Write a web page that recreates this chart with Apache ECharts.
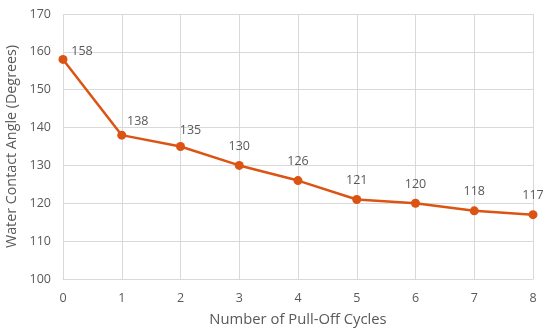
<!DOCTYPE html>
<html><head><meta charset="utf-8">
<script src="https://cdn.jsdelivr.net/npm/echarts@6/dist/echarts.min.js"></script>
<style>html,body{margin:0;padding:0;background:#fff}#c{width:550px;height:334px}</style>
</head><body><div id="c"></div>
<script>
const categories = ['0','1','2','3','4','5','6','7','8'];
const angles = [158, 138, 135, 130, 126, 121, 120, 118, 117];
const labelOffsets = [[19,11],[16,5],[10,3],[0,0],[0,0],[0,0],[0,0],[0,0],[0,0]];
const chart = echarts.init(document.getElementById('c'));
const txt = '#595959';
const ff = 'Open Sans';
chart.setOption({
  animation:false,
  grid:{left:63,right:17,top:14,bottom:55,outerBoundsMode:'none',containLabel:false},
  xAxis:{type:'category',data:categories,boundaryGap:false,
    name:'Number of Pull-Off Cycles',nameLocation:'middle',nameGap:33,
    nameTextStyle:{color:txt,fontSize:14.8,fontFamily:ff},
    axisLine:{lineStyle:{color:'#d9d9d9'}},axisTick:{show:false},
    axisLabel:{color:txt,fontSize:12.5,margin:13,fontFamily:ff},
    splitLine:{show:true,lineStyle:{color:'#d9d9d9'}}},
  yAxis:{type:'value',min:100,max:170,interval:10,
    name:'Water Contact Angle (Degrees)',nameLocation:'middle',nameGap:41,
    nameTextStyle:{color:txt,fontSize:14.3,fontFamily:ff},
    axisLine:{show:false},axisTick:{show:false},
    axisLabel:{color:txt,fontSize:12.5,margin:12,fontFamily:ff},
    splitLine:{lineStyle:{color:'#d9d9d9'}}},
  series:[{type:'line',data:angles.map((v,i)=>({value:v,label:{offset:labelOffsets[i]}})),
    symbol:'circle',symbolSize:9,
    lineStyle:{color:'#DC5414',width:2.5},itemStyle:{color:'#DC5414'},
    label:{show:true,position:'top',distance:8,color:txt,fontSize:12.5,fontFamily:ff}}]
});
</script></body></html>
